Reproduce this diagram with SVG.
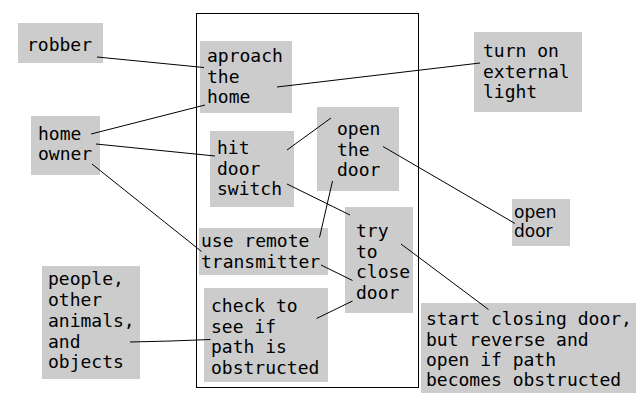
<svg xmlns="http://www.w3.org/2000/svg" width="640" height="400" viewBox="0 0 640 400">
<style>
.box{fill:#cccccc;stroke:none}
.t{font-family:"DejaVu Sans Mono","Liberation Mono",monospace;font-size:18px;fill:#000}
.t2{font-family:"DejaVu Sans","Liberation Sans",sans-serif;font-size:17px;fill:#000}
.c line,.c polyline{stroke:#000;stroke-width:1;fill:none}
</style>
<rect width="640" height="400" fill="#fff"/>
<rect id="system" x="196.5" y="13.5" width="222" height="374" fill="none" stroke="#000" stroke-width="1"/>
<g id="robber"><rect class="box" x="18" y="23" width="85" height="40"/><text class="t" x="27" y="51">robber</text></g>
<g id="approach"><rect class="box" x="200" y="41" width="92" height="72"/><text class="t" x="207"><tspan x="207" y="62">aproach</tspan><tspan x="207" y="82.5">the</tspan><tspan x="207" y="103">home</tspan></text></g>
<g id="homeowner"><rect class="box" x="31" y="116" width="69" height="59"/><text class="t"><tspan x="38" y="139.5">home</tspan><tspan x="38" y="160">owner</tspan></text></g>
<g id="hit"><rect class="box" x="210" y="131" width="84" height="76"/><text class="t"><tspan x="217" y="154">hit</tspan><tspan x="217" y="174.5">door</tspan><tspan x="217" y="195">switch</tspan></text></g>
<g id="light"><rect class="box" x="474" y="32" width="108" height="80"/><text class="t"><tspan x="483" y="57">turn on</tspan><tspan x="483" y="77.5">external</tspan><tspan x="483" y="98">light</tspan></text></g>
<g id="openthedoor"><rect class="box" x="317" y="107" width="82" height="84"/><text class="t"><tspan x="337" y="135">open</tspan><tspan x="337" y="155.5">the</tspan><tspan x="337" y="176">door</tspan></text></g>
<g id="try"><rect class="box" x="345" y="207" width="68" height="106"/><text class="t"><tspan x="356" y="237">try</tspan><tspan x="356" y="257.5">to</tspan><tspan x="356" y="278">close</tspan><tspan x="356" y="298.5">door</tspan></text></g>
<g id="remote"><rect class="box" x="199" y="228" width="129" height="47"/><text class="t"><tspan x="201" y="247">use remote</tspan><tspan x="201" y="267.5">transmitter</tspan></text></g>
<g id="check"><rect class="box" x="204" y="288" width="124" height="94"/><text class="t"><tspan x="211" y="312">check to</tspan><tspan x="211" y="332.5">see if</tspan><tspan x="211" y="353">path is</tspan><tspan x="211" y="373.5">obstructed</tspan></text></g>
<g id="people"><rect class="box" x="42" y="266" width="98" height="113"/><text class="t"><tspan x="48" y="285">people,</tspan><tspan x="48" y="305.5">other</tspan><tspan x="48" y="326.5">animals,</tspan><tspan x="48" y="347.5">and</tspan><tspan x="48" y="368">objects</tspan></text></g>
<g id="opendoor"><rect class="box" x="512" y="199" width="58" height="47"/><text class="t2"><tspan x="514" y="218">open</tspan><tspan x="514" y="237">door</tspan></text></g>
<g id="startclosing"><rect class="box" x="421" y="303" width="215" height="90"/><text class="t"><tspan x="426" y="325">start closing door,</tspan><tspan x="426" y="345.5">but reverse and</tspan><tspan x="426" y="366">open if path</tspan><tspan x="426" y="386">becomes obstructed</tspan></text></g>
<g class="c" id="connectors">
<line x1="97" y1="57" x2="204" y2="67.5"/>
<line x1="277" y1="87" x2="480" y2="63"/>
<line x1="91" y1="134" x2="205" y2="105"/>
<line x1="96" y1="144" x2="215" y2="156"/>
<line x1="92" y1="164" x2="201.5" y2="251.5"/>
<line x1="287" y1="150" x2="331" y2="118"/>
<line x1="287" y1="184" x2="350" y2="215"/>
<line x1="383" y1="146.5" x2="515" y2="223.5"/>
<line x1="332.5" y1="181" x2="319.5" y2="237.5"/>
<line x1="321" y1="265" x2="352.5" y2="280.5"/>
<line x1="316.5" y1="318.5" x2="352.5" y2="301"/>
<line x1="401" y1="244" x2="488.5" y2="309.5"/>
<polyline points="130,342 171,341 210.5,339.5"/>
</g>
</svg>
